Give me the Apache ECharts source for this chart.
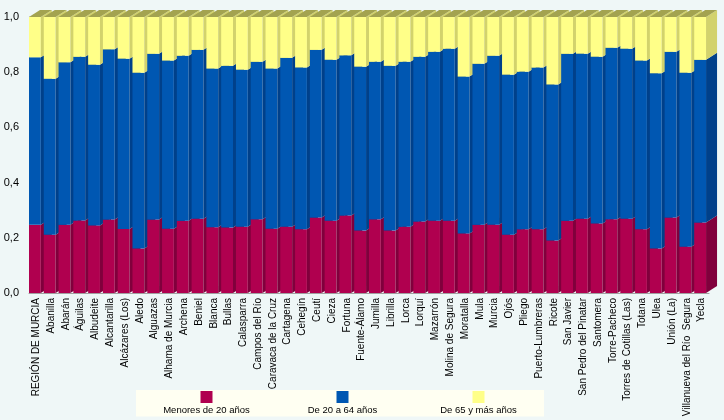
<!DOCTYPE html>
<html>
<head>
<meta charset="utf-8">
<script src="https://cdn.jsdelivr.net/npm/echarts@6/dist/echarts.min.js"></script>
<style>
html, body { margin: 0; padding: 0; background: #eff7f7; }
#chart { width: 724px; height: 420px; }
</style>
</head>
<body>
<div id="chart"></div>
<script>
const municipios = [
    'REGIÓN DE MURCIA', 'Abanilla', 'Abarán', 'Águilas', 'Albudeite', 'Alcantarilla',
    'Alcázares (Los)', 'Aledo', 'Alguazas', 'Alhama de Murcia', 'Archena', 'Beniel',
    'Blanca', 'Bullas', 'Calasparra', 'Campos del Río', 'Caravaca de la Cruz', 'Cartagena',
    'Cehegín', 'Ceutí', 'Cieza', 'Fortuna', 'Fuente-Álamo', 'Jumilla', 'Librilla', 'Lorca',
    'Lorquí', 'Mazarrón', 'Molina de Segura', 'Moratalla', 'Mula', 'Murcia', 'Ojós', 'Pliego',
    'Puerto-Lumbreras', 'Ricote', 'San Javier', 'San Pedro del Pinatar', 'Santomera',
    'Torre-Pacheco', 'Torres de Cotillas (Las)', 'Totana', 'Ulea', 'Unión (La)',
    'Villanueva del Río  Segura', 'Yecla'
];

const menores20 = [
    0.247, 0.211, 0.247, 0.263, 0.245, 0.266, 0.232, 0.161, 0.266, 0.233, 0.262, 0.269,
    0.238, 0.237, 0.240, 0.267, 0.233, 0.240, 0.231, 0.274, 0.262, 0.281, 0.226, 0.267,
    0.226, 0.240, 0.259, 0.262, 0.262, 0.216, 0.247, 0.247, 0.211, 0.231, 0.231, 0.190,
    0.262, 0.269, 0.252, 0.267, 0.269, 0.231, 0.161, 0.274, 0.168, 0.255
];

const de20a64 = [
    0.607, 0.565, 0.589, 0.593, 0.582, 0.617, 0.617, 0.637, 0.601, 0.609, 0.598, 0.612,
    0.575, 0.586, 0.569, 0.571, 0.580, 0.612, 0.586, 0.607, 0.583, 0.580, 0.594, 0.571,
    0.597, 0.598, 0.597, 0.612, 0.623, 0.568, 0.584, 0.613, 0.580, 0.571, 0.586, 0.565,
    0.605, 0.598, 0.604, 0.622, 0.616, 0.611, 0.635, 0.600, 0.630, 0.590
];

const de65ymas = [
    0.146, 0.224, 0.164, 0.144, 0.173, 0.117, 0.151, 0.202, 0.133, 0.158, 0.140, 0.119,
    0.187, 0.177, 0.191, 0.162, 0.187, 0.148, 0.183, 0.119, 0.155, 0.139, 0.180, 0.162,
    0.177, 0.162, 0.144, 0.126, 0.115, 0.216, 0.169, 0.140, 0.209, 0.198, 0.183, 0.245,
    0.133, 0.133, 0.144, 0.111, 0.115, 0.158, 0.204, 0.126, 0.202, 0.155
];

const yTicks = [0, 0.2, 0.4, 0.6, 0.8, 1.0];

// colores: cara frontal, cara lateral
const grupos = [
    { name: 'Menores de 20 años', values: menores20, front: '#b0004f', side: '#80003c' },
    { name: 'De 20 a 64 años', values: de20a64, front: '#0057b2', side: '#00408a' },
    { name: 'De 65 y más años', values: de65ymas, front: '#ffff88', side: '#d2d26c' }
];
const topColor = '#a3a350';
const depthX = 11;
const depthY = 7;

function makeRenderItem(serie) {
    return function (params, api) {
        let i = api.value(0);
        let lo = api.coord([i, api.value(1)]);
        let hi = api.coord([i, api.value(2)]);
        let band = api.size([1, 0])[0];
        let x0 = lo[0] - band / 2;
        let w = band * 0.8;
        let g = grupos[serie];
        let base = i * 10 + serie * 3;
        let children = [
            {
                type: 'rect',
                z2: base,
                shape: { x: x0, y: hi[1], width: w, height: lo[1] - hi[1] },
                style: { fill: g.front }
            },
            {
                type: 'polygon',
                z2: base + 1,
                shape: {
                    points: [
                        [x0 + w, hi[1]], [x0 + w + depthX, hi[1] - depthY],
                        [x0 + w + depthX, lo[1] - depthY], [x0 + w, lo[1]]
                    ]
                },
                style: { fill: g.side }
            }
        ];
        if (serie === grupos.length - 1) {
            children.push({
                type: 'polygon',
                z2: base + 2,
                shape: {
                    points: [
                        [x0, hi[1]], [x0 + w, hi[1]],
                        [x0 + w + depthX, hi[1] - depthY], [x0 + depthX, hi[1] - depthY]
                    ]
                },
                style: { fill: topColor }
            });
        }
        return { type: 'group', children: children };
    };
}

let series = [];
let rich = {
    t: { width: 131, align: 'center', fontSize: 9.5, lineHeight: 14, color: '#000', fontFamily: 'Liberation Sans' }
};
let acumulado = municipios.map(function () { return 0; });
grupos.forEach(function (g, s) {
    let data = g.values.map(function (v, i) {
        let item = [i, acumulado[i], acumulado[i] + v];
        acumulado[i] += v;
        return item;
    });
    rich['b' + s] = { width: 12, height: 12, lineHeight: 13, align: 'center', backgroundColor: g.front };
    series.push({
        type: 'custom',
        name: g.name,
        renderItem: makeRenderItem(s),
        itemStyle: { color: g.front },
        encode: { x: 0, y: [1, 2] },
        data: data,
        animation: false,
        silent: true
    });
});

let chart = echarts.init(document.getElementById('chart'));
chart.setOption({
    backgroundColor: '#eff7f7',
    animation: false,
    grid: { left: 29, right: 15, top: 17, height: 276, outerBoundsMode: 'none', containLabel: false },
    xAxis: {
        type: 'category',
        data: municipios,
        axisLine: { lineStyle: { color: '#a0a0a0' } },
        axisTick: { show: false },
        axisLabel: {
            interval: 0,
            rotate: 90,
            margin: 5,
            fontSize: 10,
            fontFamily: 'Liberation Sans',
            color: '#000'
        }
    },
    yAxis: {
        type: 'value',
        min: yTicks[0],
        max: yTicks[yTicks.length - 1],
        interval: 0.2,
        splitLine: { show: false },
        axisLine: { show: true, lineStyle: { color: '#b0b0b0' } },
        axisTick: { show: false },
        axisLabel: {
            margin: 10,
            fontSize: 11,
            fontFamily: 'Liberation Sans',
            color: '#000',
            formatter: function (v) { return v.toFixed(1).replace('.', ','); }
        }
    },
    legend: {
        left: 136,
        top: 390,
        padding: [1, 0, 1, 0],
        itemGap: 0,
        itemWidth: 0,
        itemHeight: 0,
        icon: 'none',
        selectedMode: false,
        backgroundColor: '#fffff2',
        data: grupos.map(function (g) { return g.name; }),
        formatter: function (name) {
            let s = grupos.findIndex(function (g) { return g.name === name; });
            return '{b' + s + '|}\n{t|' + name + '}';
        },
        textStyle: { rich: rich }
    },
    series: series
});
</script>
</body>
</html>
